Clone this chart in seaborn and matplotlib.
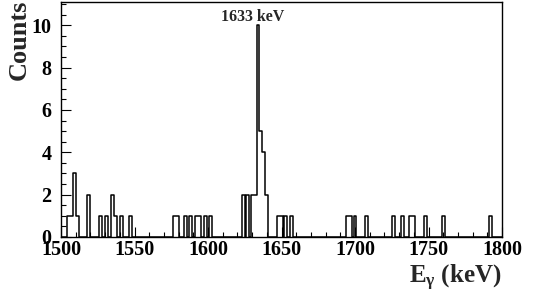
import numpy as np
import matplotlib
matplotlib.use('Agg')
import matplotlib.pyplot as plt
from matplotlib.ticker import MultipleLocator
import seaborn as sns

# 1 keV bins: lower edge of each non-empty bin and its counts
bin_low = [1504, 1505, 1506, 1507, 1508, 1509, 1510, 1511, 1518, 1519,
           1526, 1527, 1530, 1531, 1534, 1535, 1536, 1537, 1540, 1541,
           1546, 1547,
           1576, 1577, 1578, 1579, 1584, 1585, 1587, 1588, 1591, 1592,
           1593, 1594, 1597, 1598, 1601, 1602,
           1623, 1624, 1626, 1627, 1629, 1630, 1631, 1632, 1633, 1634,
           1635, 1636, 1637, 1638, 1639, 1640,
           1647, 1648, 1649, 1650, 1652, 1653, 1656, 1657,
           1694, 1695, 1696, 1697, 1699, 1700, 1707, 1708, 1725, 1726,
           1731, 1732, 1737, 1738, 1739, 1740, 1747, 1748, 1759, 1760,
           1791, 1792]
counts = [1, 1, 1, 1, 3, 3, 1, 1, 2, 2,
          1, 1, 1, 1, 2, 2, 1, 1, 1, 1,
          1, 1,
          1, 1, 1, 1, 1, 1, 1, 1, 1, 1,
          1, 1, 1, 1, 1, 1,
          2, 2, 2, 2, 2, 2, 2, 2, 10, 10,
          5, 5, 4, 4, 2, 2,
          1, 1, 1, 1, 1, 1, 1, 1,
          1, 1, 1, 1, 1, 1, 1, 1, 1, 1,
          1, 1, 1, 1, 1, 1, 1, 1, 1, 1,
          1, 1]

peak_label = '1633 keV'

sns.set_style('ticks')
plt.rcParams['font.family'] = ['Liberation Serif', 'DejaVu Serif']
plt.rcParams['font.weight'] = 'bold'
plt.rcParams['mathtext.fontset'] = 'custom'
plt.rcParams['mathtext.rm'] = 'Liberation Serif:bold'
plt.rcParams['mathtext.it'] = 'Liberation Serif:bold'

fig = plt.figure(figsize=(5.48, 3.01), dpi=100)
ax = fig.add_axes([61 / 548, 1 - 237 / 301, 441 / 548, 235 / 301])

sns.histplot(x=np.array(bin_low) + 0.5, weights=counts, binwidth=1,
             binrange=(1500, 1800), element='step', fill=False,
             color='black', linewidth=1.1, ax=ax)

ax.set_xlim(1500, 1800)
ax.set_ylim(0, 11.1)
ax.xaxis.set_major_locator(MultipleLocator(50))
ax.xaxis.set_minor_locator(MultipleLocator(10))
ax.yaxis.set_major_locator(MultipleLocator(2))
ax.yaxis.set_minor_locator(MultipleLocator(0.5))
ax.tick_params(which='both', direction='in', colors='black', width=0.8)
ax.tick_params(axis='x', which='major', length=7, pad=2, labelsize=14.5)
ax.tick_params(axis='x', which='minor', length=3.5)
ax.tick_params(axis='y', which='major', length=7, pad=7, labelsize=14.5)
ax.tick_params(axis='y', which='minor', length=3.5)
for s in ax.spines.values():
    s.set_visible(True)
    s.set_linewidth(1.0)
    s.set_color('black')

ax.set_xlabel('')
ax.set_ylabel('')
ax.text(1630.6, 10.2, peak_label, ha='center', va='baseline',
        fontsize=11.5, fontweight='bold')

fig.text(19 / 548, 1.0, 'Counts', rotation=90, ha='center', va='top',
         fontsize=19, fontweight='bold')
fig.text(502 / 548, 1 - 283 / 301, r'E$_{\mathrm{\gamma}}$ (keV)',
         ha='right', va='baseline', fontsize=18, fontweight='bold')

fig.savefig('out.png', dpi=100)
